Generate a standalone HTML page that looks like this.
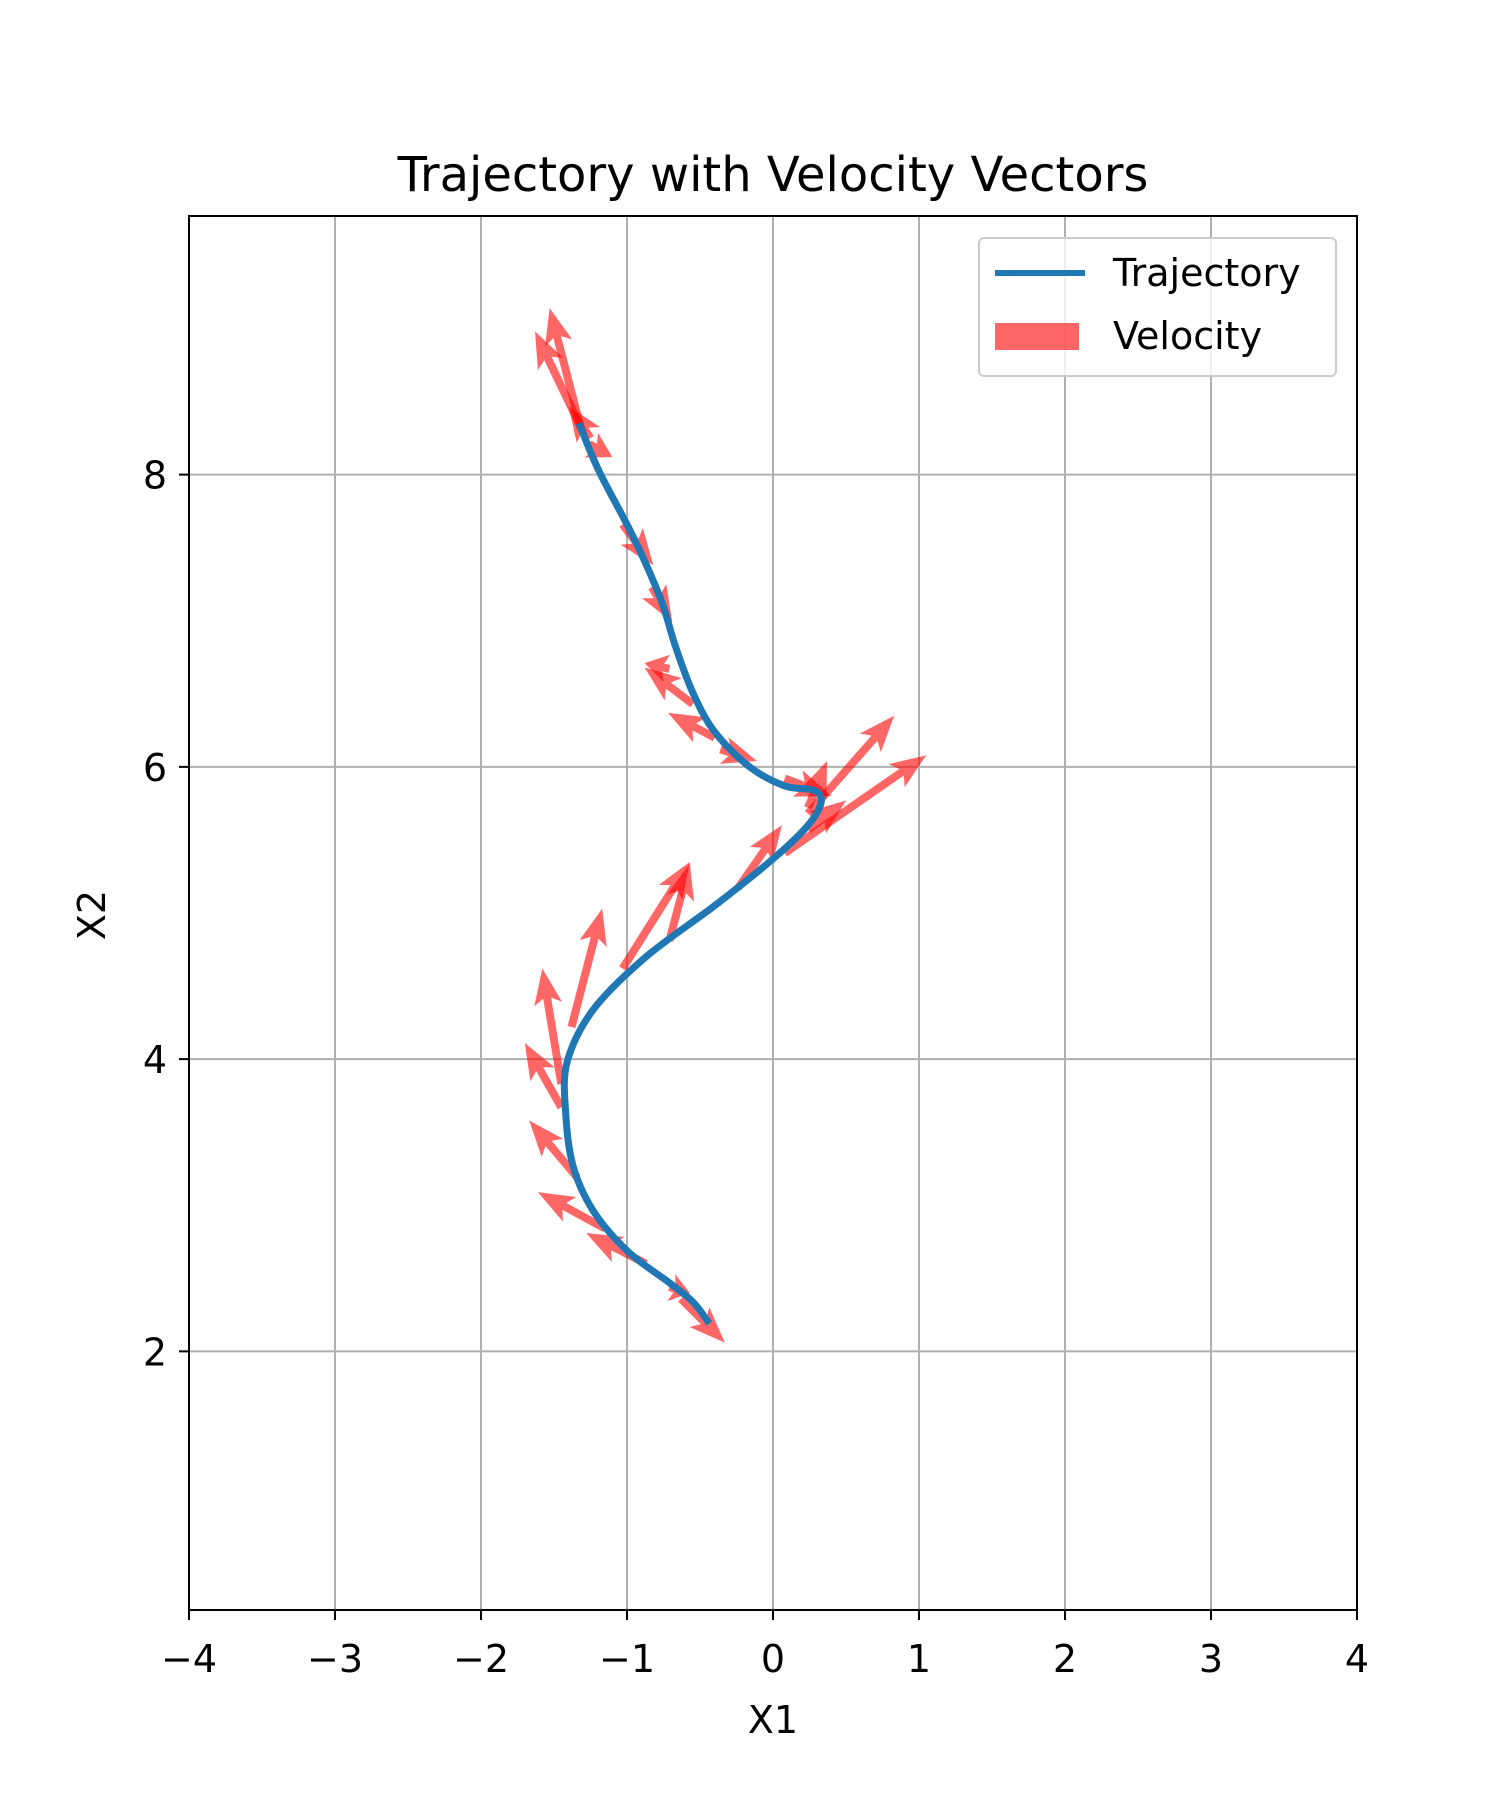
<!DOCTYPE html>
<html><head><meta charset="utf-8">
<style>
html,body{margin:0;padding:0;background:#fff;}
svg{display:block;font-family:"DejaVu Sans","Liberation Sans",sans-serif;}
</style></head>
<body>
<svg id="chart" width="1500" height="1800" viewBox="0 0 1500 1800" xmlns="http://www.w3.org/2000/svg">
<text x="773" y="191" font-size="48" text-anchor="middle">Trajectory with Velocity Vectors</text>
<g id="grid"></g>
<g id="ticks"></g>
<g id="arrows"></g>
<path id="traj" fill="none" stroke="#1f77b4" stroke-width="7" stroke-linejoin="round" stroke-linecap="square"/>
<rect x="189" y="216" width="1168" height="1394" fill="none" stroke="#000" stroke-width="2"/>
<text x="773" y="1733" font-size="38" text-anchor="middle">X1</text>
<text x="0" y="0" font-size="38" text-anchor="middle" transform="translate(105,915) rotate(-90)">X2</text>
<g>
<rect x="979" y="238" width="357" height="138" rx="5" fill="#fff" fill-opacity="0.8" stroke="#ccc" stroke-width="2"/>
<line x1="995" y1="273" x2="1085" y2="273" stroke="#1f77b4" stroke-width="6"/>
<text x="1113" y="286" font-size="38">Trajectory</text>
<rect x="995" y="323" width="84" height="27" fill="#ff0000" fill-opacity="0.6"/>
<text x="1113" y="349" font-size="38">Velocity</text>
</g>
</svg>
<script>
const xTicks = [-4,-3,-2,-1,0,1,2,3,4];
const yTicks = [2,4,6,8];
const trajX = [-1.32,-1.19,-0.96,-0.77,-0.67,-0.55,-0.40,-0.16,0.08,0.28,0.33,0.24,0.00,-0.40,-0.87,-1.23,-1.41,-1.42,-1.37,-1.23,-0.99,-0.71,-0.55,-0.45];
const trajY = [8.33,8.02,7.58,7.15,6.83,6.51,6.24,6.00,5.87,5.84,5.76,5.60,5.37,5.05,4.70,4.34,3.98,3.63,3.27,2.96,2.68,2.47,2.34,2.21];
const arrX = [-1.32,-1.30,-1.25,-1.26,-1.03,-0.83,-0.71,-0.55,-0.40,-0.36,0.08,0.24,0.24,0.08,0.24,-0.24,-0.71,-1.03,-1.38,-1.45,-1.45,-1.34,-1.15,-0.87,-0.71,-0.63];
const arrY = [8.33,8.29,8.25,8.21,7.66,7.23,6.67,6.43,6.20,6.12,5.92,5.72,5.68,5.41,5.57,5.17,4.81,4.62,4.22,3.83,3.67,3.19,2.84,2.60,2.44,2.36];
const arrU = [-0.21,-0.33,-0.15,0.16,0.21,0.14,-0.17,-0.33,-0.32,0.25,0.32,0.13,0.59,0.97,0.26,0.30,0.14,0.46,0.21,-0.13,-0.25,-0.33,-0.46,-0.41,0.14,0.30];
const arrV = [0.81,0.69,0.22,-0.09,-0.28,-0.24,0.04,0.25,0.17,-0.08,-0.12,0.32,0.67,0.67,0.20,0.43,0.53,0.73,0.81,0.79,0.44,0.39,0.25,0.21,-0.04,-0.30];

const NS='http://www.w3.org/2000/svg';
const X0=189,X1=1357,Y0=216,Y1=1610, XMIN=-4,XMAX=4,YMIN=0.23,YMAX=9.77;
const sx=v=>X0+(v-XMIN)/(XMAX-XMIN)*(X1-X0);
const sy=v=>Y1-(v-YMIN)/(YMAX-YMIN)*(Y1-Y0);
const grid=document.getElementById('grid'), ticks=document.getElementById('ticks');
function mk(tag,attrs,parent){const e=document.createElementNS(NS,tag);for(const k in attrs)e.setAttribute(k,attrs[k]);parent.appendChild(e);return e;}
xTicks.forEach(t=>{
  const x=sx(t);
  const g=mk('line',{x1:x,x2:x,y1:Y0,y2:Y1,stroke:'#b0b0b0','stroke-width':2},grid);
  
  
  const tk=mk('line',{x1:x,x2:x,y1:Y1,y2:Y1+10,stroke:'#000','stroke-width':2},ticks);
  
  
  const tx=mk('text',{x:x,y:Y1+62,'font-size':38,'text-anchor':'middle'},ticks);
  tx.textContent=(t<0?'\u2212'+(-t):String(t));
  
  
});
yTicks.forEach(t=>{
  const y=sy(t);
  const g=mk('line',{x1:X0,x2:X1,y1:y,y2:y,stroke:'#b0b0b0','stroke-width':2},grid);
  
  
  const tk=mk('line',{x1:X0-10,x2:X0,y1:y,y2:y,stroke:'#000','stroke-width':2},ticks);
  
  
  const tx=mk('text',{x:X0-22,y:y+14,'font-size':38,'text-anchor':'end'},ticks);
  tx.textContent=String(t);
  
  
});
// smooth Catmull-Rom path through trajectory points
(function(){
  const P=trajX.map((v,i)=>[sx(v),sy(trajY[i])]);
  let d='M'+P[0][0].toFixed(1)+' '+P[0][1].toFixed(1);
  for(let i=0;i<P.length-1;i++){
    const p0=P[Math.max(0,i-1)],p1=P[i],p2=P[i+1],p3=P[Math.min(P.length-1,i+2)];
    const c1=[p1[0]+(p2[0]-p0[0])/6,p1[1]+(p2[1]-p0[1])/6];
    const c2=[p2[0]-(p3[0]-p1[0])/6,p2[1]-(p3[1]-p1[1])/6];
    d+=' C'+c1.map(n=>n.toFixed(1)).join(' ')+' '+c2.map(n=>n.toFixed(1)).join(' ')+' '+p2.map(n=>n.toFixed(1)).join(' ');
  }
  document.getElementById('traj').setAttribute('d',d);
})();
const ag=document.getElementById('arrows');
arrX.forEach((v,i)=>{
  const x0=sx(v),y0=sy(arrY[i]),x1=sx(v+arrU[i]),y1=sy(arrY[i]+arrV[i]);
  const dx=x1-x0,dy=y1-y0,L=Math.hypot(dx,dy);const ux=dx/L,uy=dy/L,px=-uy,py=ux;
  const w=4,hl=Math.min(36,L*0.9),hw=14,hb=Math.min(30,L*0.75);
  const bx=x1-ux*hl,by=y1-uy*hl;
  const pts=[[x0+px*w,y0+py*w],[bx+px*w,by+py*w],[x1-ux*hl+px*hw+ux*(hl-hb)*0,y1-uy*hl+py*hw],[x1,y1],[x1-ux*hl-px*hw,y1-uy*hl-py*hw],[bx-px*w,by-py*w],[x0-px*w,y0-py*w]];
  pts[1]=[x1-ux*hb+px*w,y1-uy*hb+py*w];
  pts[5]=[x1-ux*hb-px*w,y1-uy*hb-py*w];
  const p=mk('polygon',{points:pts.map(q=>q[0].toFixed(1)+','+q[1].toFixed(1)).join(' '),fill:'#ff0000','fill-opacity':0.6},ag);
  
  
});
</script>
</body></html>
